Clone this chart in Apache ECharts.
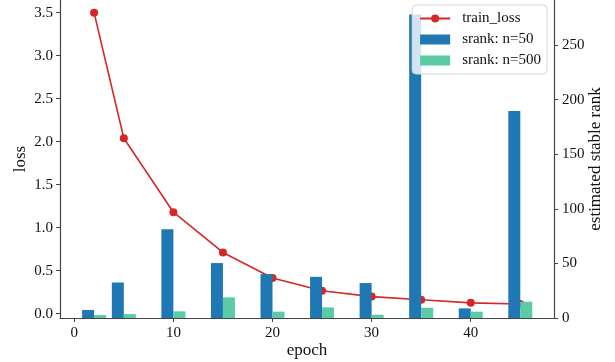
<!DOCTYPE html>
<html>
<head>
<meta charset="utf-8">
<script src="https://cdn.jsdelivr.net/npm/echarts@6/dist/echarts.min.js"></script>
<style>
html,body{margin:0;padding:0;background:#fff;overflow:hidden;}
#chart{width:615px;height:362px;}
</style>
</head>
<body>
<div id="chart"></div>
<script>
const epochs = [2, 5, 10, 15, 20, 25, 30, 35, 40, 45];
const trainLoss = [3.50, 2.04, 1.18, 0.712, 0.415, 0.267, 0.199, 0.163, 0.126, 0.112];
const srank50 = [7.3, 32.5, 81.3, 50.3, 40.2, 37.7, 32.0, 278, 8.8, 189.5];
const srank500 = [2.7, 3.6, 6.1, 18.9, 5.8, 9.7, 3.0, 9.4, 5.8, 14.9];
const xTicks = [0, 10, 20, 30, 40];
const lossTicks = [0, 0.5, 1.0, 1.5, 2.0, 2.5, 3.0, 3.5];
const rankTicks = [0, 50, 100, 150, 200, 250];

const FONT = 'Liberation Serif';
const axisColor = '#444';

const chart = echarts.init(document.getElementById('chart'), null, {renderer: 'canvas'});
const option = {
  animation: false,
  textStyle: {fontFamily: FONT},
  grid: {left: 60, right: 61, top: 0, bottom: 44, containLabel: false, outerBoundsMode: 'none'},
  legend: {
    orient: 'vertical',
    right: 68,
    top: 5,
    padding: [5, 6, 5, 7],
    itemGap: 4,
    itemWidth: 30,
    itemHeight: 10,
    backgroundColor: 'rgba(255,255,255,0.8)',
    borderColor: '#d5d5d5',
    borderWidth: 1,
    borderRadius: 4,
    textStyle: {fontFamily: FONT, fontSize: 15, color: '#111', lineHeight: 17, padding: [0, 0, 0, 7]},
    data: [
      {name: 'train_loss'},
      {name: 'srank: n=50', icon: 'rect'},
      {name: 'srank: n=500', icon: 'rect'}
    ]
  },
  xAxis: {
    type: 'value',
    min: -1.44,
    max: 48.4,
    name: 'epoch',
    nameLocation: 'middle',
    nameGap: 24,
    nameMoveOverlap: false,
    nameTextStyle: {fontFamily: FONT, fontSize: 17, color: '#111'},
    splitLine: {show: false},
    axisLine: {show: true, onZero: false, lineStyle: {color: axisColor, width: 1.2}},
    axisTick: {show: true, length: 4, customValues: xTicks, lineStyle: {color: axisColor}},
    axisLabel: {customValues: xTicks, margin: 8, fontFamily: FONT, fontSize: 15, color: '#111'}
  },
  yAxis: [
    {
      type: 'value',
      position: 'left',
      min: -0.05,
      max: 3.647,
      name: 'loss',
      nameLocation: 'middle',
      nameGap: 31,
      nameRotate: 90,
      nameMoveOverlap: false,
      nameTextStyle: {fontFamily: FONT, fontSize: 17, color: '#111'},
      splitLine: {show: false},
      axisLine: {show: true, onZero: false, lineStyle: {color: axisColor, width: 1.2}},
      axisTick: {show: true, length: 4, customValues: lossTicks, lineStyle: {color: axisColor}},
      axisLabel: {customValues: lossTicks, margin: 7, fontFamily: FONT, fontSize: 15, color: '#111',
        formatter: v => v.toFixed(1)}
    },
    {
      type: 'value',
      position: 'right',
      min: 0,
      max: 291.2,
      name: 'estimated stable rank',
      nameLocation: 'middle',
      nameGap: 33,
      nameRotate: 90,
      nameMoveOverlap: false,
      nameTextStyle: {fontFamily: FONT, fontSize: 17, color: '#111'},
      splitLine: {show: false},
      axisLine: {show: true, onZero: false, lineStyle: {color: axisColor, width: 1.2}},
      axisTick: {show: true, length: 4, customValues: rankTicks, lineStyle: {color: axisColor}},
      axisLabel: {customValues: rankTicks, margin: 8, fontFamily: FONT, fontSize: 15, color: '#111'}
    }
  ],
  series: [
    {
      name: 'train_loss',
      type: 'line',
      yAxisIndex: 0,
      z: 1,
      data: epochs.map((e, i) => [e, trainLoss[i]]),
      symbol: 'circle',
      symbolSize: 8,
      itemStyle: {color: '#d62728'},
      lineStyle: {color: '#d62728', width: 1.6}
    },
    {
      name: 'srank: n=50',
      type: 'bar',
      yAxisIndex: 1,
      z: 3,
      barWidth: 12,
      barGap: '0%',
      data: epochs.map((e, i) => [e, srank50[i]]),
      itemStyle: {color: '#1f77b4', borderWidth: 0}
    },
    {
      name: 'srank: n=500',
      type: 'bar',
      yAxisIndex: 1,
      z: 3,
      barWidth: 12,
      barGap: '0%',
      data: epochs.map((e, i) => [e, srank500[i]]),
      itemStyle: {color: '#5ccba5', borderWidth: 0}
    }
  ]
};
chart.setOption(option);
</script>
</body>
</html>
